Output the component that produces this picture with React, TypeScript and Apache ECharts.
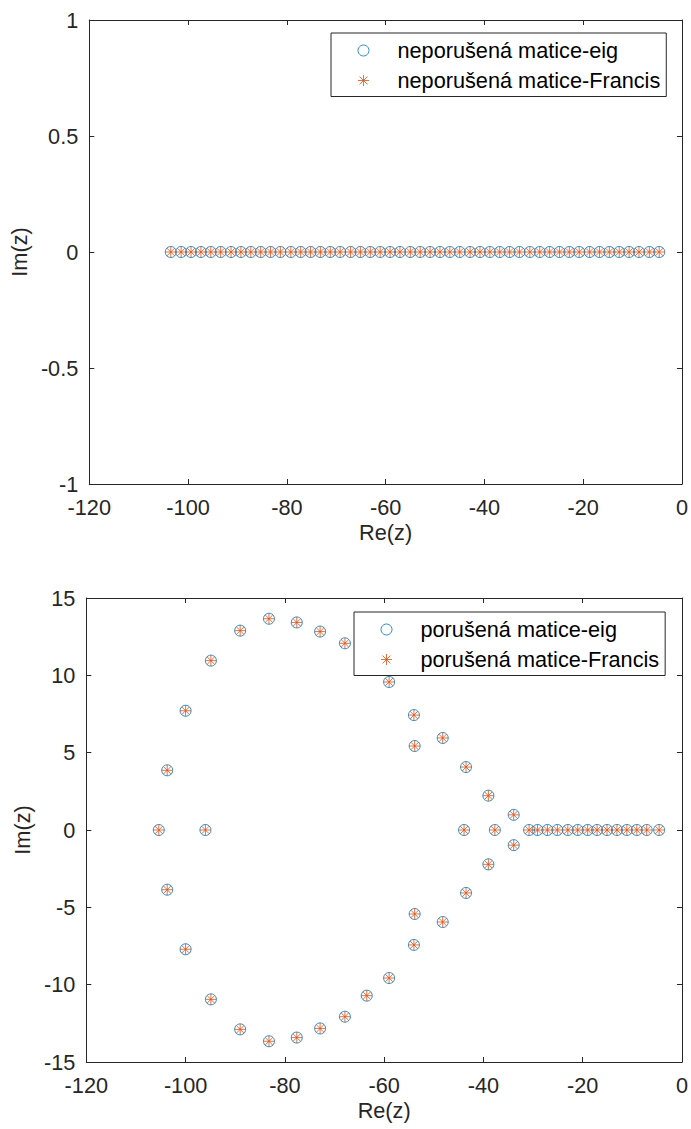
import React, { useEffect, useRef } from "react";
import * as echarts from "echarts";

// ---------- data ----------
const xTicks = { min: -120, max: 0, interval: 20 };
const topYTicks = { min: -1, max: 1, interval: 0.5 };
const bottomYTicks = { min: -15, max: 15, interval: 5 };

const topNames = ["neporušená matice-eig", "neporušená matice-Francis"];
const bottomNames = ["porušená matice-eig", "porušená matice-Francis"];

// eigenvalues of the unperturbed matrix (all real)
const intactRe = [
  -4.6, -6.6, -8.7, -10.7, -12.7, -14.7, -16.7, -18.7, -20.8, -22.8,
  -24.8, -26.8, -28.8, -30.8, -32.9, -34.9, -36.9, -38.9, -40.9, -42.9,
  -45.0, -47.0, -49.0, -51.0, -53.0, -55.0, -57.1, -59.1, -61.1, -63.1,
  -65.1, -67.1, -69.2, -71.2, -73.2, -75.2, -77.2, -79.2, -81.3, -83.3,
  -85.3, -87.3, -89.3, -91.3, -93.4, -95.4, -97.4, -99.4, -101.4, -103.5,
];
const intactIm = [
  0, 0, 0, 0, 0, 0, 0, 0, 0, 0,
  0, 0, 0, 0, 0, 0, 0, 0, 0, 0,
  0, 0, 0, 0, 0, 0, 0, 0, 0, 0,
  0, 0, 0, 0, 0, 0, 0, 0, 0, 0,
  0, 0, 0, 0, 0, 0, 0, 0, 0, 0,
];

// eigenvalues of the perturbed matrix
const perturbedRe = [
  -105.4, -103.7, -103.7, -100.0, -100.0, -96.0, -94.9, -94.9, -89.0, -89.0,
  -83.2, -83.2, -77.6, -77.6, -72.9, -72.9, -67.9, -67.9, -63.5, -63.5,
  -59.0, -59.0, -54.0, -54.0, -53.85, -53.85, -48.2, -48.2, -43.5, -43.5,
  -43.9, -39.0, -39.0, -37.7, -33.9, -33.9, -30.8, -29.1, -27.1, -25.1,
  -23.0, -21.0, -19.0, -17.1, -15.1, -13.1, -11.1, -9.1, -7.1, -4.6,
];
const perturbedIm = [
  0, 3.86, -3.86, 7.71, -7.71, 0, 10.95, -10.95, 12.89, -12.89,
  13.66, -13.66, 13.42, -13.42, 12.83, -12.83, 12.07, -12.07, 10.71, -10.71,
  9.57, -9.57, 7.43, -7.43, 5.43, -5.43, 5.95, -5.95, 4.07, -4.07,
  0, 2.22, -2.22, 0, 0.98, -0.98, 0, 0, 0, 0,
  0, 0, 0, 0, 0, 0, 0, 0, 0, 0,
];

// ---------- styling ----------
const FONT = "'Liberation Sans', Arial, Helvetica, sans-serif";
const FS = 21.7;
const AXIS_COLOR = "#262626";
const BLUE = "#0072BD";
const ORANGE = "#D95319";
const STAR =
  "path://M0,5L10,5M5,0L5,10M1.46,1.46L8.54,8.54M8.54,1.46L1.46,8.54";

const circleStyle = { color: "rgba(0,0,0,0)", borderColor: BLUE, borderWidth: 1 };
const starStyle = { color: ORANGE, borderColor: ORANGE, borderWidth: 1 };

function pairs(re: number[], im: number[]) {
  return re.map((r, i) => [r, im[i]]);
}

function makeXAxes(gridIndex: number) {
  return [
    {
      type: "value",
      gridIndex,
      position: "bottom",
      min: xTicks.min,
      max: xTicks.max,
      interval: xTicks.interval,
      name: "Re(z)",
      nameLocation: "middle",
      nameGap: 37,
      nameTextStyle: { fontSize: FS, color: AXIS_COLOR, fontFamily: FONT },
      axisLine: { show: true, onZero: false, lineStyle: { color: AXIS_COLOR, width: 1 } },
      axisTick: { show: true, inside: true, length: 5, lineStyle: { color: AXIS_COLOR } },
      axisLabel: { margin: 12, fontSize: FS, color: AXIS_COLOR, fontFamily: FONT },
      splitLine: { show: false },
    },
    {
      type: "value",
      gridIndex,
      position: "top",
      min: xTicks.min,
      max: xTicks.max,
      interval: xTicks.interval,
      axisLine: { show: true, onZero: false, lineStyle: { color: AXIS_COLOR, width: 1 } },
      axisTick: { show: true, inside: true, length: 5, lineStyle: { color: AXIS_COLOR } },
      axisLabel: { show: false },
      splitLine: { show: false },
    },
  ];
}

function makeYAxes(gridIndex: number, t: { min: number; max: number; interval: number }) {
  return [
    {
      type: "value",
      gridIndex,
      position: "left",
      min: t.min,
      max: t.max,
      interval: t.interval,
      name: "Im(z)",
      nameLocation: "middle",
      nameGap: 50,
      nameTextStyle: { fontSize: FS, color: AXIS_COLOR, fontFamily: FONT },
      axisLine: { show: true, onZero: false, lineStyle: { color: AXIS_COLOR, width: 1 } },
      axisTick: { show: true, inside: true, length: 5, lineStyle: { color: AXIS_COLOR } },
      axisLabel: { margin: 11, fontSize: FS, color: AXIS_COLOR, fontFamily: FONT },
      splitLine: { show: false },
    },
    {
      type: "value",
      gridIndex,
      position: "right",
      min: t.min,
      max: t.max,
      interval: t.interval,
      axisLine: { show: true, onZero: false, lineStyle: { color: AXIS_COLOR, width: 1 } },
      axisTick: { show: true, inside: true, length: 5, lineStyle: { color: AXIS_COLOR } },
      axisLabel: { show: false },
      splitLine: { show: false },
    },
  ];
}

function makeLegend(names: string[], left: number, top: number) {
  return {
    orient: "vertical",
    left,
    top,
    selectedMode: false,
    backgroundColor: "#fff",
    borderColor: AXIS_COLOR,
    borderWidth: 1,
    borderRadius: 0,
    padding: [5.5, 6, 4, 26.5],
    itemWidth: 11,
    itemHeight: 11,
    itemGap: 6,
    textStyle: {
      fontSize: FS,
      color: "#000",
      fontFamily: FONT,
      lineHeight: 24,
      padding: [0, 0, 0, 23.5],
    },
    data: [
      { name: names[0], icon: "circle", itemStyle: circleStyle },
      { name: names[1], icon: STAR, itemStyle: starStyle },
    ],
  };
}

function scatter(name: string, xi: number, yi: number, data: number[][], star: boolean) {
  return {
    type: "scatter",
    name,
    xAxisIndex: xi,
    yAxisIndex: yi,
    data,
    symbol: star ? STAR : "circle",
    symbolSize: 11,
    symbolKeepAspect: true,
    itemStyle: star ? starStyle : circleStyle,
    emphasis: { disabled: true },
    z: star ? 3 : 2,
  };
}

const option = {
  animation: false,
  backgroundColor: "#fff",
  textStyle: { fontFamily: FONT },
  grid: [
    { left: 86.3, right: 9, top: 20, height: 464, containLabel: false },
    { left: 86.3, right: 9, top: 598, height: 464, containLabel: false },
  ],
  xAxis: [...makeXAxes(0), ...makeXAxes(1)],
  yAxis: [...makeYAxes(0, topYTicks), ...makeYAxes(1, bottomYTicks)],
  legend: [makeLegend(topNames, 331, 33), makeLegend(bottomNames, 354, 612)],
  series: [
    scatter(topNames[0], 0, 0, pairs(intactRe, intactIm), false),
    scatter(topNames[1], 0, 0, pairs(intactRe, intactIm), true),
    scatter(bottomNames[0], 2, 2, pairs(perturbedRe, perturbedIm), false),
    scatter(bottomNames[1], 2, 2, pairs(perturbedRe, perturbedIm), true),
  ],
};

export default function App() {
  const ref = useRef<HTMLDivElement>(null);
  useEffect(() => {
    if (!ref.current) return;
    const chart = echarts.init(ref.current, null, { renderer: "svg" });
    chart.setOption(option as any);
    return () => chart.dispose();
  }, []);
  return (
    <div
      ref={ref}
      style={{ position: "absolute", left: 0, top: 0, width: 691, height: 1129 }}
    />
  );
}
